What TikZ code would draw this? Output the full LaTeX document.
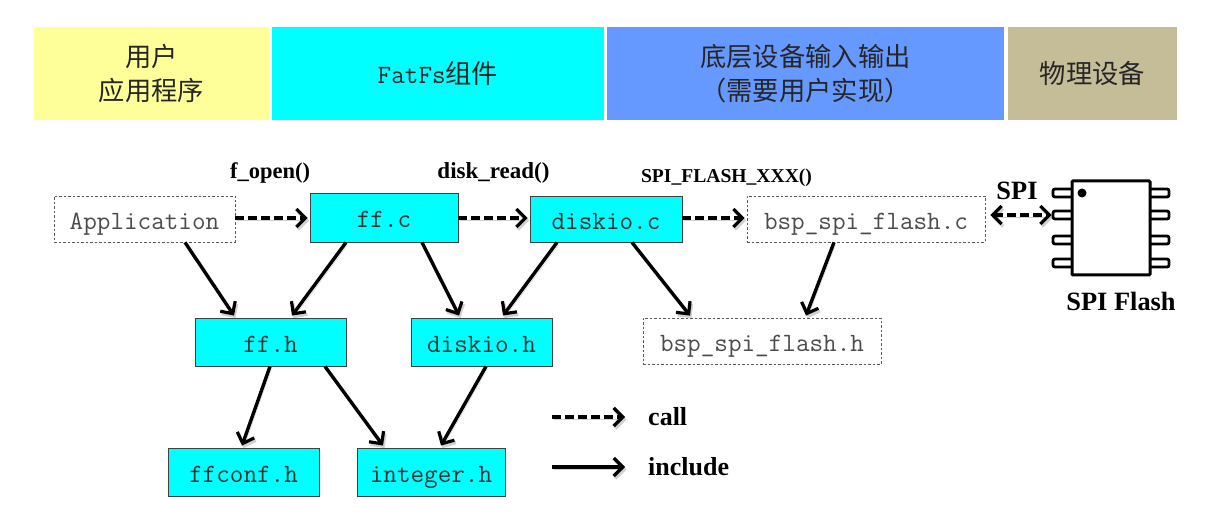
\documentclass[tikz,border=0pt]{standalone}
\usepackage{fontspec}
\setmainfont{Liberation Serif}
\newfontfamily\cjk{Noto Sans CJK SC}
\usetikzlibrary{arrows.meta,calc}
\definecolor{hy}{HTML}{FFFF99}
\definecolor{hc}{HTML}{00FFFF}
\definecolor{hb}{HTML}{6699FF}
\definecolor{ht}{HTML}{C4BD97}
\tikzset{
  x=1pt,y=-1pt,
  header/.style={inner sep=0pt,align=center,text=black!85,font=\cjk\fontsize{26.3}{34}\selectfont},
  filebox/.style={draw=black!75,line width=0.9pt,fill=hc,inner sep=0pt,text=black!80,text height=25pt,text depth=4pt,font=\ttfamily\fontsize{26.4}{28}\selectfont},
  extbox/.style={draw=black!65,line width=0.8pt,dash pattern=on 2.5pt off 2pt,fill=white,inner sep=0pt,text=black!70,text height=25pt,text depth=4pt,font=\ttfamily\fontsize{26.4}{28}\selectfont},
  lbl/.style={inner sep=0pt,font=\bfseries\fontsize{22.5}{26}\selectfont},
  tip/.style={-{Straight Barb[length=9pt,width=18pt,line width=3.2pt]}},
  shade/.style={preaction={draw=black,opacity=.18,transform canvas={shift={(1.5,2.5)}}}},
  inc/.style={draw=black,line width=3.4pt,tip,shade},
  callarr/.style={draw=black,line width=3.4pt,dash pattern=on 9pt off 4pt,tip,shade},
  pin/.style={draw=black,line width=2.8pt,fill=white,rounded corners=2pt},
}
\begin{document}
\begin{tikzpicture}
\useasboundingbox (0,0) rectangle (1222,526);
% header bands
\node[header,fill=hy,minimum width=235pt,minimum height=93pt] (h1) at (151.5,73.5) {用户\\应用程序};
\node[header,fill=hc,minimum width=332pt,minimum height=93pt] (h2) at (438,73.5) {{\ttfamily\fontsize{26.4}{28}\selectfont FatFs}组件};
\node[header,fill=hb,minimum width=397pt,minimum height=93pt] (h3) at (805.5,73.5) {底层设备输入输出\\（需要用户实现）};
\node[header,fill=ht,minimum width=169pt,minimum height=93pt] (h4) at (1092.5,73.5) {物理设备};
% file boxes
\node[extbox,minimum width=181pt,minimum height=46pt] (app) at (144.5,219) {Application};
\node[filebox,minimum width=148pt,minimum height=49pt] (ffc) at (384,217.5) {ff.c};
\node[filebox,minimum width=152pt,minimum height=46pt] (dioc) at (606,219) {diskio.c};
\node[extbox,minimum width=238pt,minimum height=46pt] (bspc) at (866,219) {bsp\_spi\_flash.c};
\node[filebox,minimum width=151pt,minimum height=48pt] (ffh) at (270.5,342) {ff.h};
\node[filebox,minimum width=141pt,minimum height=48pt] (dioh) at (481.5,342) {diskio.h};
\node[extbox,minimum width=238pt,minimum height=46pt] (bsph) at (762,341) {bsp\_spi\_flash.h};
\node[filebox,minimum width=151pt,minimum height=48pt] (ffconf) at (243.5,472) {ffconf.h};
\node[filebox,minimum width=148pt,minimum height=48pt] (integer) at (431,472) {integer.h};
% chip
\foreach \py [count=\i] in {193,215,240,263}{
  \node[pin,minimum width=20pt,minimum height=8pt,inner sep=0pt] (pl\i) at (1063,\py) {};
  \node[pin,minimum width=20pt,minimum height=8pt,inner sep=0pt] (pr\i) at (1159,\py) {};
}
\node[draw=black,line width=3pt,fill=white,rounded corners=1pt,minimum width=78pt,minimum height=94pt,inner sep=0pt] (chip) at (1111,228) {};
\node[circle,fill=black,minimum size=9pt,inner sep=0pt] (dot) at (1082,193) {};
% labels
\node[lbl] (l1) at (270,172.5) {f\_open()};
\node[lbl,font=\bfseries\fontsize{23}{26}\selectfont] (l2) at (493.5,172.5) {disk\_read()};
\node[lbl,font=\bfseries\fontsize{19.6}{22}\selectfont] (l3) at (726.5,178) {SPI\_FLASH\_XXX()};
\node[lbl,font=\bfseries\fontsize{26.4}{28}\selectfont] (l4) at (1017,191) {SPI};
\node[lbl,font=\bfseries\fontsize{26.4}{28}\selectfont] (l5) at (1121,301) {SPI Flash};
% call arrows
\draw[callarr] (app.east |- 0,218) -- ([xshift=-2pt]ffc.west |- 0,218);
\draw[callarr] (ffc.east |- 0,218) -- ([xshift=-2pt]dioc.west |- 0,218);
\draw[callarr] (dioc.east |- 0,218) -- ([xshift=-2pt]bspc.west |- 0,218);
\draw[callarr,{Straight Barb[length=9pt,width=18pt,line width=3.2pt]}-{Straight Barb[length=9pt,width=18pt,line width=3.2pt]}] ([xshift=5pt]bspc.east |- pl2) -- (pl2.west);
% include arrows
\draw[inc] ([xshift=40.5pt]app.south) -- ([xshift=-36.5pt,yshift=2pt]ffh.north);
\draw[inc] ([xshift=-38pt]ffc.south) -- ([xshift=21.5pt,yshift=2pt]ffh.north);
\draw[inc] ([xshift=38pt]ffc.south) -- ([xshift=-22.5pt,yshift=2pt]dioh.north);
\draw[inc] ([xshift=-49pt]dioc.south) -- ([xshift=21.5pt,yshift=2pt]dioh.north);
\draw[inc] ([xshift=26pt]dioc.south) -- ([xshift=-72pt,yshift=2pt]bsph.north);
\draw[inc] ([xshift=-32pt]bspc.south) -- ([xshift=44pt,yshift=2pt]bsph.north);
\draw[inc] ([xshift=-0.5pt]ffh.south) -- ([xshift=-1.5pt,yshift=2pt]ffconf.north);
\draw[inc] ([xshift=54.5pt]ffh.south) -- ([xshift=-48pt,yshift=2pt]integer.north);
\draw[inc] ([xshift=4.5pt]dioh.south) -- ([xshift=10pt,yshift=2pt]integer.north);
% legend
\node[lbl,anchor=west,font=\bfseries\fontsize{26}{28}\selectfont] (lcall) at (648,417) {call};
\node[lbl,anchor=west,font=\bfseries\fontsize{26}{28}\selectfont] (linc) at (648,467) {include};
\coordinate (c1) at (552,417);
\coordinate (c2) at (552,467);
\draw[callarr] (c1) -- ([xshift=-23pt]lcall.west);
\draw[inc] (c2) -- ([xshift=-23pt]linc.west);
\end{tikzpicture}
\end{document}
